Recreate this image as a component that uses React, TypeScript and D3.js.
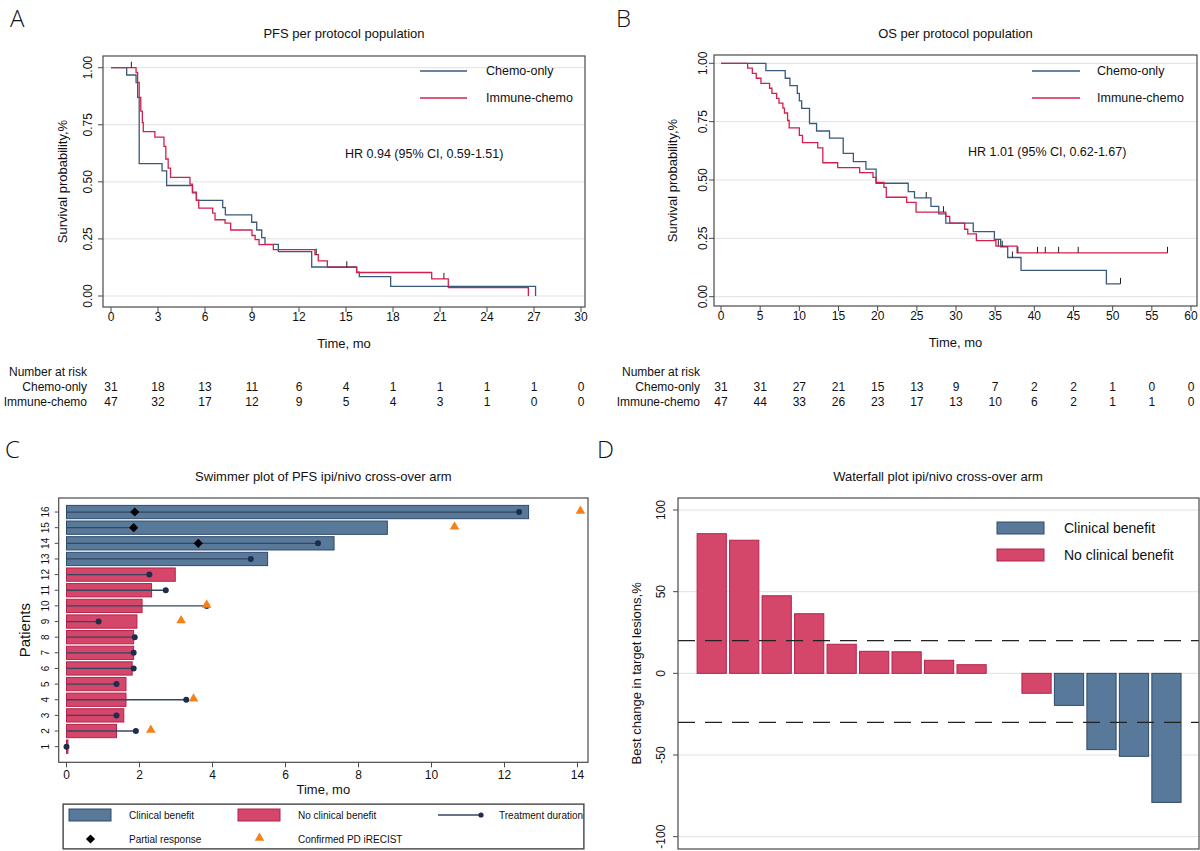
import React from 'react';
import * as d3 from 'd3';

type Pt = [number, number];

// ---------- Panel A: PFS per protocol population ----------
const pfsChemoOnly: Pt[] = [[0,1],[1.0,0.968],[1.6,0.935],[1.7,0.87],[1.8,0.58],[3.26,0.548],[3.55,0.484],[5.2,0.452],[5.45,0.419],[7.13,0.387],[7.3,0.355],[8.98,0.323],[9.3,0.289],[9.62,0.256],[9.83,0.226],[10.68,0.194],[12.81,0.127],[15.68,0.104],[15.85,0.085],[17.85,0.042],[27.1,0]];
const pfsImmuneChemo: Pt[] = [[0,1],[1.6,0.979],[1.7,0.936],[1.8,0.87],[1.9,0.81],[2.0,0.76],[2.06,0.72],[2.8,0.696],[3.38,0.655],[3.5,0.6],[3.65,0.56],[3.8,0.52],[5.04,0.49],[5.2,0.455],[5.45,0.42],[5.6,0.385],[6.49,0.363],[6.64,0.334],[7.28,0.319],[7.64,0.289],[9.0,0.265],[9.2,0.247],[9.45,0.225],[10.36,0.203],[13.02,0.181],[13.23,0.154],[13.81,0.126],[15.68,0.103],[20.47,0.075],[21.53,0.037],[26.64,0]];
const pfsChemoCensored: Pt[] = [[1.3,1]];
const pfsImmuneCensored: Pt[] = [[13.1,0.181],[15.05,0.126],[21.25,0.075]];
const pfsRiskChemo = [31,18,13,11,6,4,1,1,1,1,0];
const pfsRiskImmune = [47,32,17,12,9,5,4,3,1,0,0];

// ---------- Panel B: OS per protocol population ----------
const osChemoOnly: Pt[] = [[0,1],[5.73,0.969],[8.2,0.936],[8.8,0.904],[9.74,0.871],[10.0,0.839],[10.3,0.807],[11.3,0.742],[12.2,0.71],[13.85,0.679],[15.6,0.614],[16.9,0.579],[18.5,0.547],[19.8,0.486],[23.9,0.45],[24.7,0.423],[26.8,0.387],[27.8,0.355],[28.7,0.315],[32.2,0.279],[34.9,0.246],[35.7,0.214],[36.6,0.168],[38.3,0.113],[49.2,0.055],[51.0,0.055]];
const osImmuneChemo: Pt[] = [[0,1],[3.4,0.979],[4.0,0.957],[4.5,0.936],[5.1,0.914],[6.2,0.893],[6.5,0.871],[7.1,0.85],[7.4,0.829],[7.9,0.808],[8.1,0.787],[8.5,0.755],[8.7,0.723],[10.0,0.691],[10.4,0.66],[12.35,0.638],[13.0,0.574],[14.9,0.553],[17.7,0.532],[19.4,0.511],[19.8,0.49],[20.8,0.468],[21.1,0.426],[23.7,0.404],[24.9,0.362],[28.7,0.344],[29.2,0.315],[31.1,0.289],[31.5,0.269],[32.6,0.24],[35.1,0.217],[37.8,0.188],[57.0,0.188]];
const osChemoCensored: Pt[] = [[26.2,0.423],[35.9,0.214],[37.2,0.168],[51.0,0.055]];
const osImmuneCensored: Pt[] = [[28.4,0.362],[35.4,0.217],[37.9,0.188],[40.4,0.188],[41.4,0.188],[43.1,0.188],[45.6,0.188],[57.0,0.188]];
const osRiskChemo = [31,31,27,21,15,13,9,7,2,2,1,0,0];
const osRiskImmune = [47,44,33,26,23,17,13,10,6,2,1,1,0];

// ---------- Panel C: swimmer plot ----------
const swimPatients = [16,15,14,13,12,11,10,9,8,7,6,5,4,3,2,1];
const swimPfs = [12.66,8.79,7.33,5.51,2.98,2.33,2.07,1.93,1.84,1.84,1.80,1.63,1.63,1.57,1.37,0.04];
const swimDuration = [12.4,1.84,6.89,5.05,2.27,2.72,3.84,0.88,1.87,1.84,1.84,1.37,3.28,1.37,1.90,0];
const swimBenefit = [true,true,true,true,false,false,false,false,false,false,false,false,false,false,false,false];
const swimPartialResponse: (number|null)[] = [1.87,1.84,3.61,null,null,null,null,null,null,null,null,null,null,null,null,null];
const swimConfirmedPD: (number|null)[] = [14.08,10.63,null,null,null,null,3.84,3.14,null,null,null,null,3.48,null,2.31,null];

// ---------- Panel D: waterfall ----------
const waterSlots = ['p1','p2','p3','p4','p5','p6','p7','p8','p9','p10','p11','p12','p13','p14','p15'];
const waterChange = [85.5,81.5,47.5,36.5,17.8,13.5,13.2,8.0,5.3,0,-12.2,-19.6,-46.7,-50.8,-79];
const waterBenefit = [false,false,false,false,false,false,false,false,false,false,false,true,true,true,true];
const waterThresholds = [20,-30];

const FONT = '"Liberation Sans", Arial, Helvetica, sans-serif';
const COL_CHEMO = '#3a5a7c';
const COL_IMMUNE = '#d41f4e';
const CB_FILL = '#59799b';
const CB_STROKE = '#2e4a6b';
const NCB_FILL = '#d4476b';
const NCB_STROKE = '#b5224b';
const GRID = '#e2e2e2';
const FRAME = '#4a4a4a';
const TXT = '#111';

interface Frame { l: number; t: number; r: number; b: number }
interface KMCfg {
  frame: Frame; xMax: number; xStep: number;
  xRange: [number, number]; yRange: [number, number];
  title: string; titleY: number;
  chemo: Pt[]; immune: Pt[]; chemoCens: Pt[]; immuneCens: Pt[];
  legLine: [number, number]; legTextX: number;
  hr: string; hrX: number; hrY: number;
  yTickX: number; yLabelX: number;
  riskLabelX: number; riskChemo: number[]; riskImmune: number[];
}

function KMPanel({ c }: { c: KMCfg }) {
  const x = d3.scaleLinear().domain([0, c.xMax]).range(c.xRange);
  const y = d3.scaleLinear().domain([0, 1]).range(c.yRange);
  const line = d3.line<Pt>().x(d => x(d[0])).y(d => y(d[1])).curve(d3.curveStepAfter);
  const xt = d3.range(0, c.xMax + 0.001, c.xStep);
  const yt = [0, 0.25, 0.5, 0.75, 1];
  const fmt = d3.format('.2f');
  const f = c.frame;
  const cx = (f.l + f.r) / 2;
  const cy = (f.t + f.b) / 2;
  return (
    <g>
      <text x={cx} y={c.titleY} textAnchor="middle" dominantBaseline="central" fontSize={13} fill={TXT}>{c.title}</text>
      {yt.map(v => <line key={'g' + v} x1={f.l} x2={f.r} y1={y(v)} y2={y(v)} stroke={GRID} strokeWidth={1} />)}
      <path d={line(c.chemo) || ''} fill="none" stroke={COL_CHEMO} strokeWidth={1.3} />
      <path d={line(c.immune) || ''} fill="none" stroke={COL_IMMUNE} strokeWidth={1.3} />
      {c.chemoCens.map((d, i) => <line key={'cc' + i} x1={x(d[0])} x2={x(d[0])} y1={y(d[1])} y2={y(d[1]) - 6} stroke="#222" strokeWidth={1} />)}
      {c.immuneCens.map((d, i) => <line key={'ic' + i} x1={x(d[0])} x2={x(d[0])} y1={y(d[1])} y2={y(d[1]) - 6} stroke="#222" strokeWidth={1} />)}
      <rect x={f.l} y={f.t} width={f.r - f.l} height={f.b - f.t} fill="none" stroke={FRAME} strokeWidth={1.2} />
      {yt.map(v => (
        <g key={'yt' + v}>
          <line x1={f.l - 5} x2={f.l} y1={y(v)} y2={y(v)} stroke={FRAME} />
          <text transform={`translate(${c.yTickX},${y(v)}) rotate(-90)`} textAnchor="middle" dominantBaseline="central" fontSize={12} fill={TXT}>{fmt(v)}</text>
        </g>
      ))}
      {xt.map(v => (
        <g key={'xt' + v}>
          <line x1={x(v)} x2={x(v)} y1={f.b} y2={f.b + 5} stroke={FRAME} />
          <text x={x(v)} y={f.b + 10} textAnchor="middle" dominantBaseline="central" fontSize={12} fill={TXT}>{v}</text>
        </g>
      ))}
      <text transform={`translate(${c.yLabelX},${cy}) rotate(-90)`} textAnchor="middle" dominantBaseline="central" fontSize={13} fill={TXT}>Survival probability,%</text>
      <text x={cx} y={f.b + 36} textAnchor="middle" dominantBaseline="central" fontSize={13} fill={TXT}>Time, mo</text>
      <line x1={c.legLine[0]} x2={c.legLine[1]} y1={71} y2={71} stroke={COL_CHEMO} strokeWidth={1.5} />
      <text x={c.legTextX} y={71} dominantBaseline="central" fontSize={12.5} fill={TXT}>Chemo-only</text>
      <line x1={c.legLine[0]} x2={c.legLine[1]} y1={98} y2={98} stroke={COL_IMMUNE} strokeWidth={1.5} />
      <text x={c.legTextX} y={98} dominantBaseline="central" fontSize={12.5} fill={TXT}>Immune-chemo</text>
      <text x={c.hrX} y={c.hrY} dominantBaseline="central" fontSize={12.5} fill={TXT}>{c.hr}</text>
      <text x={c.riskLabelX} y={372} textAnchor="end" dominantBaseline="central" fontSize={12} fill={TXT}>Number at risk</text>
      <text x={c.riskLabelX} y={387} textAnchor="end" dominantBaseline="central" fontSize={12} fill={TXT}>Chemo-only</text>
      <text x={c.riskLabelX} y={402} textAnchor="end" dominantBaseline="central" fontSize={12} fill={TXT}>Immune-chemo</text>
      {c.riskChemo.map((n, i) => <text key={'rc' + i} x={x(xt[i])} y={387} textAnchor="middle" dominantBaseline="central" fontSize={12} fill={TXT}>{n}</text>)}
      {c.riskImmune.map((n, i) => <text key={'ri' + i} x={x(xt[i])} y={402} textAnchor="middle" dominantBaseline="central" fontSize={12} fill={TXT}>{n}</text>)}
    </g>
  );
}

function SwimmerPanel() {
  const f: Frame = { l: 58.7, t: 498, r: 588, b: 762.3 };
  const x = d3.scaleLinear().domain([0, 14]).range([66.5, 577.5]);
  const y = d3.scaleLinear().domain([0, 17]).range([762.3, 496.4]);
  const bh = y(0) - y(0.85);
  const xt = d3.range(0, 15, 2);
  const diamond = d3.symbol(d3.symbolSquare, 42)() || '';
  const tri = d3.symbol(d3.symbolTriangle, 40)() || '';
  const legY1 = 815, legY2 = 839;
  return (
    <g>
      <text x={(f.l + f.r) / 2} y={476} textAnchor="middle" dominantBaseline="central" fontSize={13} fill={TXT}>Swimmer plot of PFS ipi/nivo cross-over arm</text>
      {swimPatients.map((p, i) => (
        <rect key={'b' + p} x={x(0)} y={y(p) - bh / 2} width={Math.max(x(swimPfs[i]) - x(0), 0.5)} height={bh}
          fill={swimBenefit[i] ? CB_FILL : NCB_FILL} stroke={swimBenefit[i] ? CB_STROKE : NCB_STROKE} strokeWidth={1} />
      ))}
      {swimPatients.map((p, i) => (
        <line key={'l' + p} x1={x(0)} x2={x(swimDuration[i])} y1={y(p)} y2={y(p)} stroke="#36465f" strokeWidth={1.3} />
      ))}
      {swimPatients.map((p, i) => (
        <circle key={'d' + p} cx={x(swimDuration[i])} cy={y(p)} r={3} fill="#1f2d4d" />
      ))}
      {swimPatients.map((p, i) => swimPartialResponse[i] == null ? null : (
        <path key={'pr' + p} d={diamond} transform={`translate(${x(swimPartialResponse[i] as number)},${y(p)}) rotate(45)`} fill="#000" />
      ))}
      {swimPatients.map((p, i) => swimConfirmedPD[i] == null ? null : (
        <path key={'pd' + p} d={tri} transform={`translate(${x(swimConfirmedPD[i] as number)},${y(p) - 1})`} fill="#f58218" />
      ))}
      <rect x={f.l} y={f.t} width={f.r - f.l} height={f.b - f.t} fill="none" stroke={FRAME} strokeWidth={1.2} />
      {swimPatients.map(p => (
        <g key={'yt' + p}>
          <line x1={f.l - 4} x2={f.l} y1={y(p)} y2={y(p)} stroke={FRAME} />
          <text transform={`translate(${45},${y(p)}) rotate(-90)`} textAnchor="middle" dominantBaseline="central" fontSize={10} fill={TXT}>{p}</text>
        </g>
      ))}
      {xt.map(v => (
        <g key={'xt' + v}>
          <line x1={x(v)} x2={x(v)} y1={f.b} y2={f.b + 5} stroke={FRAME} />
          <text x={x(v)} y={775} textAnchor="middle" dominantBaseline="central" fontSize={12} fill={TXT}>{v}</text>
        </g>
      ))}
      <text transform={`translate(${24},${(f.t + f.b) / 2}) rotate(-90)`} textAnchor="middle" dominantBaseline="central" fontSize={15} fill={TXT}>Patients</text>
      <text x={(f.l + f.r) / 2} y={789} textAnchor="middle" dominantBaseline="central" fontSize={13} fill={TXT}>Time, mo</text>
      <defs>
        <clipPath id="swimLegClip"><rect x={63} y={804} width={521} height={45} /></clipPath>
      </defs>
      <g clipPath="url(#swimLegClip)">
        <rect x={63} y={804} width={521} height={45} fill="#fff" stroke={FRAME} strokeWidth={1.2} />
        <rect x={69} y={legY1 - 6} width={42} height={12} fill={CB_FILL} stroke={CB_STROKE} />
        <text x={129} y={legY1} dominantBaseline="central" fontSize={10} fill={TXT}>Clinical benefit</text>
        <rect x={238} y={legY1 - 6} width={42} height={12} fill={NCB_FILL} stroke={NCB_STROKE} />
        <text x={298} y={legY1} dominantBaseline="central" fontSize={10} fill={TXT}>No clinical benefit</text>
        <line x1={438} x2={481} y1={legY1} y2={legY1} stroke="#36465f" strokeWidth={1.3} />
        <circle cx={481} cy={legY1} r={2.6} fill="#1f2d4d" />
        <text x={499} y={legY1} dominantBaseline="central" fontSize={10} fill={TXT}>Treatment duration</text>
        <path d={diamond} transform={`translate(${90.5},${legY2}) rotate(45)`} fill="#000" />
        <text x={129} y={legY2} dominantBaseline="central" fontSize={10} fill={TXT}>Partial response</text>
        <path d={tri} transform={`translate(${259.5},${legY2 - 1})`} fill="#f58218" />
        <text x={298} y={legY2} dominantBaseline="central" fontSize={10} fill={TXT}>Confirmed PD iRECIST</text>
      </g>
      <rect x={63} y={804} width={521} height={45} fill="none" stroke={FRAME} strokeWidth={1.2} />
    </g>
  );
}

function WaterfallPanel() {
  const f: Frame = { l: 678, t: 498, r: 1199, b: 849 };
  const x = d3.scaleBand<string>().domain(waterSlots).range([695.5, 1182.7]).paddingInner(0.1).paddingOuter(0.05);
  const y = d3.scaleLinear().domain([-100, 100]).range([836.7, 510]);
  const yt = [-100, -50, 0, 50, 100];
  return (
    <g>
      <text x={938} y={476} textAnchor="middle" dominantBaseline="central" fontSize={13} fill={TXT}>Waterfall plot ipi/nivo cross-over arm</text>
      {yt.map(v => <line key={'g' + v} x1={f.l} x2={f.r} y1={y(v)} y2={y(v)} stroke={GRID} strokeWidth={1} />)}
      {waterSlots.map((s, i) => waterChange[i] === 0 ? null : (
        <rect key={s} x={x(s)} width={x.bandwidth()} y={y(Math.max(0, waterChange[i]))} height={Math.abs(y(waterChange[i]) - y(0))}
          fill={waterBenefit[i] ? CB_FILL : NCB_FILL} stroke={waterBenefit[i] ? CB_STROKE : NCB_STROKE} strokeWidth={1} />
      ))}
      {waterThresholds.map(v => <line key={'th' + v} x1={f.l} x2={f.r} y1={y(v)} y2={y(v)} stroke="#222" strokeWidth={1.2} strokeDasharray="17,10" />)}
      <rect x={f.l} y={f.t} width={f.r - f.l} height={f.b - f.t} fill="none" stroke={FRAME} strokeWidth={1.2} />
      {yt.map(v => (
        <g key={'yt' + v}>
          <line x1={f.l - 5} x2={f.l} y1={y(v)} y2={y(v)} stroke={FRAME} />
          <text transform={`translate(${661},${y(v)}) rotate(-90)`} textAnchor="middle" dominantBaseline="central" fontSize={12} fill={TXT}>{v}</text>
        </g>
      ))}
      <text transform={`translate(${636},${y(0)}) rotate(-90)`} textAnchor="middle" dominantBaseline="central" fontSize={13} fill={TXT}>Best change in target lesions,%</text>
      <rect x={997} y={522} width={47} height={12} fill={CB_FILL} stroke={CB_STROKE} />
      <text x={1064} y={528} dominantBaseline="central" fontSize={14} fill={TXT}>Clinical benefit</text>
      <rect x={997} y={549} width={47} height={12} fill={NCB_FILL} stroke={NCB_STROKE} />
      <text x={1064} y={555} dominantBaseline="central" fontSize={14} fill={TXT}>No clinical benefit</text>
    </g>
  );
}

const kmA: KMCfg = {
  frame: { l: 103, t: 56, r: 585, b: 307 }, xMax: 30, xStep: 3,
  xRange: [111, 581], yRange: [296, 67.7],
  title: 'PFS per protocol population', titleY: 33,
  chemo: pfsChemoOnly, immune: pfsImmuneChemo, chemoCens: pfsChemoCensored, immuneCens: pfsImmuneCensored,
  legLine: [420, 467], legTextX: 486,
  hr: 'HR 0.94 (95% CI, 0.59-1.51)', hrX: 345, hrY: 154,
  yTickX: 88, yLabelX: 62,
  riskLabelX: 87, riskChemo: pfsRiskChemo, riskImmune: pfsRiskImmune,
};

const kmB: KMCfg = {
  frame: { l: 714, t: 55, r: 1197, b: 306 }, xMax: 60, xStep: 5,
  xRange: [721, 1191], yRange: [296.7, 63.3],
  title: 'OS per protocol population', titleY: 33,
  chemo: osChemoOnly, immune: osImmuneChemo, chemoCens: osChemoCensored, immuneCens: osImmuneCensored,
  legLine: [1032, 1080], legTextX: 1097,
  hr: 'HR 1.01 (95% CI, 0.62-1.67)', hrX: 968, hrY: 152,
  yTickX: 703, yLabelX: 672,
  riskLabelX: 700, riskChemo: osRiskChemo, riskImmune: osRiskImmune,
};

export default function App() {
  const letter = { fontFamily: '"Open Sans", "DejaVu Sans", sans-serif', fontWeight: 300, fontSize: 24, fill: TXT } as const;
  return (
    <svg width={1200} height={851} viewBox="0 0 1200 851" style={{ position: 'absolute', left: 0, top: 0, background: '#fff' }} fontFamily={FONT}>
      <rect x={0} y={0} width={1200} height={851} fill="#fff" />
      <text x={10} y={27} {...letter}>A</text>
      <text x={616} y={27} {...letter}>B</text>
      <text x={5} y={458} {...letter}>C</text>
      <text x={597} y={458} {...letter}>D</text>
      <KMPanel c={kmA} />
      <KMPanel c={kmB} />
      <SwimmerPanel />
      <WaterfallPanel />
    </svg>
  );
}
